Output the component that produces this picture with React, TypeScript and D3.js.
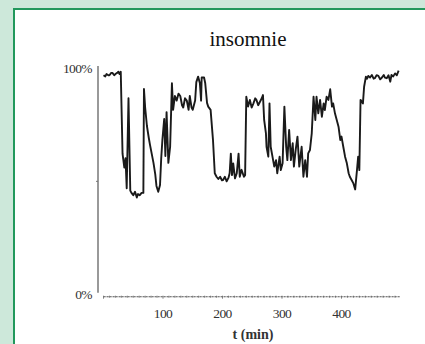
import { useEffect, useRef } from "react";
import * as d3 from "d3";

const title = "insomnie";
const xLabel = "t (min)";
const xTicks = [100, 200, 300, 400];
const yTicks = [0, 100];

// time (min) and level (%)
const times = [
  0, 3, 5, 8, 10, 13, 15, 18, 20, 23, 25, 27, 29, 32, 35, 37, 39, 42, 45, 47, 50,
  53, 56, 58, 61, 64, 67, 68, 70, 73, 76, 78, 81, 84, 87, 89, 92, 95, 97, 99, 102,
  104, 106, 109, 112, 115, 117, 120, 123, 126, 129, 132, 134, 137, 140, 143, 145,
  148, 150, 154, 156, 159, 162, 164, 165, 169, 171, 174, 176, 180, 184, 187, 190,
  193, 196, 199, 201, 204, 207, 210, 212, 214, 216, 218, 221, 224, 227, 229, 232,
  234, 236, 238, 240, 243, 246, 249, 252, 255, 257, 260, 263, 266, 268, 270, 273,
  274, 277, 279, 281, 284, 287, 290, 292, 296, 298, 301, 304, 307, 309, 312, 315,
  318, 320, 323, 326, 329, 333, 336, 339, 342, 344, 347, 350, 353, 356, 358, 361,
  364, 367, 370, 372, 375, 378, 381, 384, 386, 389, 392, 395, 398, 400, 403, 406,
  409, 412, 414, 417, 420, 423, 426, 428, 430, 432, 436, 438, 441, 443, 445, 448,
  451, 454, 456, 459, 462, 465, 468, 471, 473, 476, 479, 482, 484, 487, 490, 493,
  496, 498,
];
const levels = [
  96, 95.5, 96.5, 96, 96, 97, 97, 96, 96.5, 97, 97.5, 96.5, 97.5, 62, 56, 60, 47,
  86, 46, 45, 44, 45.5, 43, 44.5, 44, 45, 45, 90, 82, 74, 69, 66, 62, 58, 53, 48,
  45.5, 48.4, 60, 68, 77, 61, 80, 58, 65, 92.5, 81, 87, 85, 88, 87, 83, 82, 86,
  85, 81, 87, 82, 81, 85, 93, 95.4, 92.5, 85, 95, 95, 92.5, 84, 82.4, 81, 68,
  53.5, 52, 51, 52, 50.5, 50.6, 52, 50, 51.5, 53.5, 62, 52.7, 57.8, 51.3, 53.5,
  62, 52, 55, 53.5, 52, 52.7, 86.7, 82.4, 85.3, 82, 83.8, 86, 85.3, 83, 84.5, 86,
  87.4, 76.6, 70.8, 65, 60.7, 83.8, 65, 60.7, 56.4, 59.2, 53.5, 60.7, 54.9, 57.8,
  82.4, 65, 59.2, 72.3, 59.2, 66.5, 56.4, 63.6, 69.4, 56.4, 65, 52, 59.2, 52,
  62.1, 63.6, 70.8, 86.7, 76.6, 86.7, 79.5, 85.3, 78, 83.8, 80.9, 86.7, 85.3,
  89.9, 82.4, 83.8, 79.5, 76.6, 73.7, 67.9, 69.4, 65, 60.7, 57.8, 53.5, 52, 50.6,
  49.1, 46.5, 54.9, 60.7, 54.9, 85.3, 83.8, 91, 95.4, 94.5, 95.7, 95, 96.1, 94.5,
  94.7, 96, 95.7, 94.2, 95, 96.1, 95, 94.7, 96, 93.2, 96.1, 95.5, 96.8, 96, 98,
];

export default function App() {
  const svgRef = useRef<SVGSVGElement>(null);

  useEffect(() => {
    const width = 425;
    const height = 344;
    const font = "Liberation Serif, Tinos, Times New Roman, Times, serif";

    const svg = d3.select(svgRef.current);
    svg.selectAll("*").remove();
    svg.attr("width", width).attr("height", height);

    // page background and framed panel
    svg.append("rect").attr("width", width).attr("height", height).attr("fill", "#cde8da");
    svg.append("rect").attr("x", 15).attr("y", 10).attr("width", width - 15).attr("height", height - 10).attr("fill", "#fff");
    svg.append("path").attr("d", `M14,${height} V9 H${width}`).attr("fill", "none").attr("stroke", "#22985c").attr("stroke-width", 2);

    const x = d3.scaleLinear().domain([0, 500]).range([103.5, 401]);
    const y = d3.scaleLinear().domain([0, 100]).range([296.7, 66]);

    const axisX = 98;
    const baseY = y(0);

    // y axis (detached)
    svg.append("line")
      .attr("x1", axisX).attr("x2", axisX)
      .attr("y1", y(100)).attr("y2", baseY - 4)
      .attr("stroke", "#555").attr("stroke-width", 1.2);
    svg.append("line")
      .attr("x1", axisX - 2).attr("x2", axisX)
      .attr("y1", y(50)).attr("y2", y(50))
      .attr("stroke", "#777").attr("stroke-width", 1);

    svg.append("g")
      .selectAll("text")
      .data(yTicks)
      .join("text")
      .attr("x", 92)
      .attr("y", (d) => (d === 100 ? y(d) + 6.5 : baseY + 2))
      .attr("text-anchor", "end")
      .attr("font-family", font)
      .attr("font-size", 13.5)
      .attr("fill", "#333")
      .attr("letter-spacing", -0.6)
      .text((d) => d + "%");

    // x axis: fine dashed line with minor ticks
    svg.append("line")
      .attr("x1", x(0)).attr("x2", x(498))
      .attr("y1", baseY).attr("y2", baseY)
      .attr("stroke", "#555").attr("stroke-width", 1.1)
      .attr("stroke-dasharray", "2.2,0.8");
    svg.append("g")
      .selectAll("line")
      .data(d3.range(0, 500, 10))
      .join("line")
      .attr("x1", (d) => x(d)).attr("x2", (d) => x(d))
      .attr("y1", baseY - 1).attr("y2", (d) => (d % 100 === 0 ? baseY + 2 : baseY + 1))
      .attr("stroke", "#666").attr("stroke-width", 0.8);

    svg.append("g")
      .selectAll("text")
      .data(xTicks)
      .join("text")
      .attr("x", (d) => x(d))
      .attr("y", 318)
      .attr("text-anchor", "middle")
      .attr("font-family", font)
      .attr("font-size", 13.5)
      .attr("fill", "#333")
      .attr("letter-spacing", -0.6)
      .text((d) => d);

    svg.append("text")
      .attr("x", 253)
      .attr("y", 339)
      .attr("text-anchor", "middle")
      .attr("font-family", font)
      .attr("font-size", 14)
      .attr("font-weight", "bold")
      .attr("fill", "#333")
      .text(xLabel);

    svg.append("text")
      .attr("x", 248)
      .attr("y", 46)
      .attr("text-anchor", "middle")
      .attr("font-family", font)
      .attr("font-size", 21)
      .attr("fill", "#111")
      .text(title);

    // trace
    const points = times.map((t, i) => [t, levels[i]] as [number, number]);
    const line = d3.line<[number, number]>()
      .x((d) => x(d[0]))
      .y((d) => y(d[1]));
    svg.append("path")
      .datum(points)
      .attr("d", line)
      .attr("fill", "none")
      .attr("stroke", "#1a1a1a")
      .attr("stroke-width", 1.9)
      .attr("stroke-linejoin", "round");
  }, []);

  return (
    <div style={{ position: "absolute", left: 0, top: 0 }}>
      <svg ref={svgRef} style={{ display: "block" }}></svg>
    </div>
  );
}
